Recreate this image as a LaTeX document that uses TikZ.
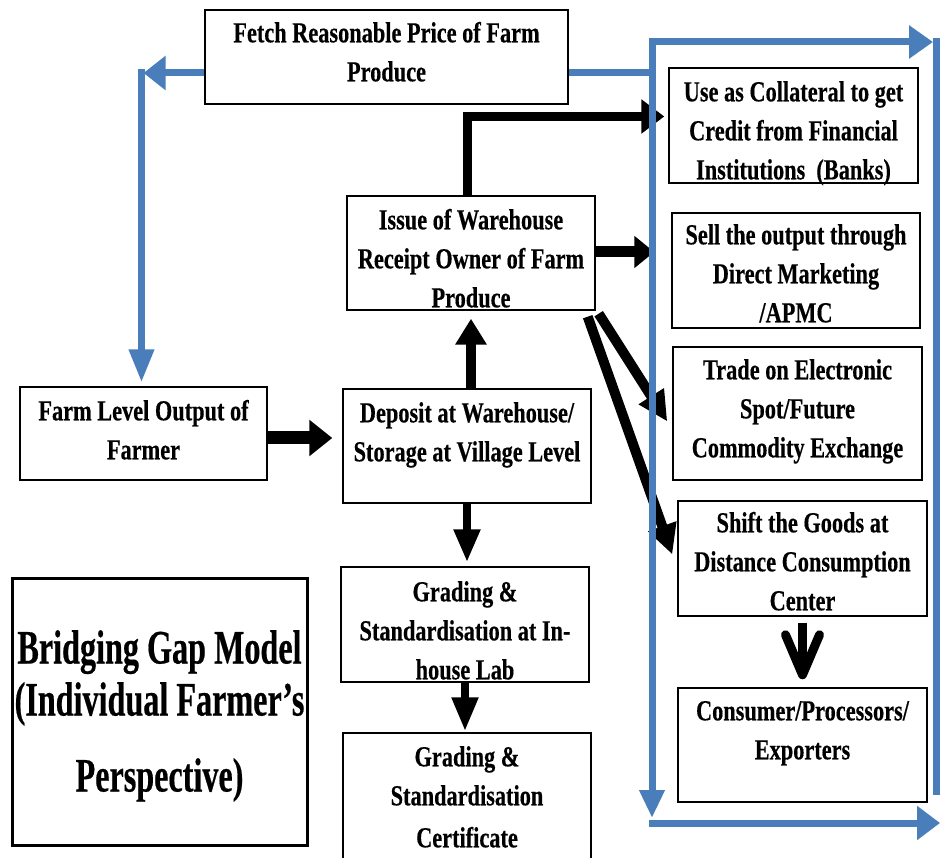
\documentclass[tikz,border=0pt]{standalone}
\usepackage{fontspec}
\usetikzlibrary{arrows.meta,calc,fit}
\newfontfamily\bodyfont{Liberation Serif}[FakeStretch=0.77,FakeBold=0.4]
\newfontfamily\titlefont{Liberation Serif}[FakeStretch=0.67,FakeBold=0.4]
\definecolor{flowblue}{RGB}{74,126,187}
\begin{document}
\begin{tikzpicture}[x=1pt,y=-1pt,
  box/.style={draw, line width=1.4pt, inner sep=0pt},
  % text nodes are placed by the baseline of their last line
  txt/.style={font={\bodyfont\bfseries\fontsize{29}{39}\selectfont}, align=center, inner sep=0pt, anchor=base},
  ttl/.style={font={\titlefont\bfseries\fontsize{48}{52}\selectfont}, align=center, inner sep=0pt, anchor=base},
  blk/.style n args={3}{draw=black, line width=#1, line join=miter, -{Triangle[width=#2,length=#3]}},
  blu/.style n args={2}{draw=flowblue, line width=7pt, -{Triangle[width=#1,length=#2]}},
  blueline/.style={draw=flowblue, line width=7pt}]
\useasboundingbox (0,0) rectangle (940,858);
\fill[white] (0,0) rectangle (940,858);

% boxes
\node[box, fit={(205,10) (568,104)}] (fetch) {};
\node[box, fit={(20,387) (267,480)}] (farm) {};
\node[box, fit={(347,196) (595,310)}] (issue) {};
\node[box, fit={(343,389) (591,503)}] (deposit) {};
\node[box, fit={(341,567) (589,682)}] (gradelab) {};
\node[box, fit={(343,733) (591,880)}] (gradecert) {};
\node[box, fit={(669,68) (918,183)}] (collateral) {};
\node[box, fit={(672,213) (920,328)}] (sell) {};
\node[box, fit={(673,347) (922,480)}] (trade) {};
\node[box, fit={(678,501) (927,616)}] (shift) {};
\node[box, fit={(678,688) (927,802)}] (consumer) {};
\node[box, line width=3pt, fit={(12,578) (307,845)}] (title) {};

% box texts
\node[txt] (fetch-t) at ($(fetch.north)+(0,72)$) {Fetch Reasonable Price of Farm\\Produce};
\node[txt] (farm-t) at ($(farm.north)+(0,73)$) {Farm Level Output of\\Farmer};
\node[txt] (issue-t) at ($(issue.north)+(0,112)$) {Issue of Warehouse\\Receipt Owner of Farm\\Produce};
\node[txt] (deposit-t) at ($(deposit.north)+(0,73)$) {Deposit at Warehouse/\\Storage at Village Level};
\node[txt] (gradelab-t) at ($(gradelab.north)+(0,113)$) {Grading \&\\Standardisation at In-\\house Lab};
\node[txt] (gradecert-t) at ($(gradecert.north)+(0,115)$) {Grading \&\\Standardisation\\[3pt]Certificate};
\node[txt] (collateral-t) at ($(collateral.north)+(0,112)$) {Use as Collateral to get\\Credit from Financial\\Institutions\ \ (Banks)};
\node[txt] (sell-t) at ($(sell.north)+(0,110)$) {Sell the output through\\Direct Marketing\\/APMC};
\node[txt] (trade-t) at ($(trade.north)+(0,111)$) {Trade on Electronic\\Spot/Future\\Commodity Exchange};
\node[txt] (shift-t) at ($(shift.north)+(0,110)$) {Shift the Goods at\\Distance Consumption\\Center};
\node[txt] (consumer-t) at ($(consumer.north)+(0,72)$) {Consumer/Processors/\\Exporters};
\node[ttl] (title-t) at ($(title.north)+(0,215)$) {Bridging Gap Model\\(Individual Farmer’s\\[24pt]Perspective)};

% black flow arrows
\draw[blk={13pt}{35pt}{23pt}] ($(farm.east)+(0,4.5)$) -- ($(deposit.west)+(-10,-8)$);
\draw[blk={10pt}{30pt}{26pt}] (issue.south |- deposit.north) -- ($(issue.south)+(0,8)$);
\draw[blk={8pt}{25pt}{33pt}] (deposit.south) -- ($(deposit.south |- gradelab.north)+(0,-4)$);
\draw[blk={8pt}{25pt}{34pt}] (gradelab.south) -- ($(gradelab.south |- gradecert.north)+(0,-1)$);
\draw[blk={9pt}{33pt}{23pt}] ($(issue.north)+(-4,0)$) |- ($(collateral.west)+(-4,-9)$);
\draw[blk={11pt}{31pt}{20pt}] ($(issue.east)+(0,-1)$) -- ($(issue.east -| sell.west)+(-17,-1)$);
\draw[blk={10pt}{28pt}{30pt}] ($(issue.south east)+(3,3)$) -- ($(trade.west)+(-5,8)$);
\draw[blk={10pt}{28pt}{30pt}] ($(issue.south east)+(-8,6)$) -- ($(shift.west)+(-5,-4)$);
\draw[line width=9pt, -{Straight Barb[length=40pt,width=34pt,line width=9pt,round]}]
  ($(shift.south)+(0,6)$) -- ($(consumer.north)+(0,-8)$);

% blue feedback loops
\coordinate (topL) at (648.5,42);
\coordinate (topR) at (933,42);
\coordinate (leftT) at (652,38.5);
\coordinate (leftB) at (652,818);
\coordinate (botL) at (648.5,823);
\coordinate (botR) at (940,823);
\coordinate (rightT) at (936,38.5);
\coordinate (rightB) at (936,795);

\draw[blu={33pt}{22pt}] ($(fetch.west)+(0,16)$) -- ($(farm.north |- fetch.west)+(0,16)$);
\draw[blu={24pt}{33pt}] ($(farm.north |- fetch.west)+(-2,12.5)$) -- ($(farm.north)+(-2,-4)$);
\draw[blueline] ($(fetch.east)+(0,16)$) -- ($(fetch.east -| leftT)+(0,16)$);
\draw[blueline] (rightT) -- (rightB);
\draw[blu={32pt}{24pt}] (topL) -- (topR);
\draw[blu={24pt}{28pt}] (leftT) -- (leftB);
\draw[blu={33pt}{23pt}] (botL) -- (botR);
\end{tikzpicture}
\end{document}
